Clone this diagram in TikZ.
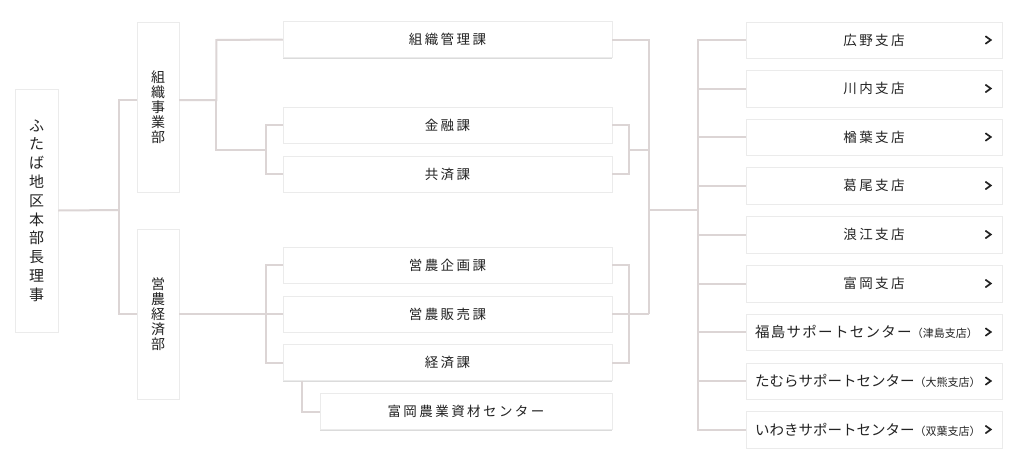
\documentclass[tikz,border=0pt]{standalone}
\usepackage{fontspec}
\setmainfont{Noto Sans CJK JP}
\newfontfamily\jp[LetterSpace=18]{Noto Sans CJK JP}
\newfontfamily\jpplain{Noto Sans CJK JP}
\newfontfamily\jpwide[LetterSpace=9]{Noto Sans CJK JP}
\usetikzlibrary{shadows}
\definecolor{linec}{RGB}{220,213,213}
\definecolor{txt}{RGB}{35,35,35}
\tikzset{
  box/.style={rectangle, fill=white, draw=black!8, line width=0.5pt, inner sep=0pt,
    text=txt, drop shadow={shadow xshift=0pt, shadow yshift=-1.2pt, opacity=0.14, fill=black}},
  vbox/.style={box, minimum width=42pt, minimum height=170pt, align=center,
    font=\fontsize{14}{15}\selectfont},
  mainbox/.style={box, minimum width=43pt, minimum height=243pt, align=center,
    font=\fontsize{15}{18.8}\selectfont},
  midbox/.style={box, minimum width=329pt, minimum height=36pt, font=\jp\fontsize{13.5}{16}\selectfont},
  brbox/.style={box, minimum width=256pt, minimum height=36.5pt, font=\jp\fontsize{13.5}{16}\selectfont},
  spbox/.style={brbox, text width=238pt, inner xsep=9pt, align=left,
    font=\jpplain\fontsize{14.5}{16}\selectfont},
  conn/.style={draw=linec, line width=2pt},
  chev/.style={draw=txt, line width=1.7pt, line cap=round, line join=miter},
}
\newcommand{\sm}[1]{{\jpplain\fontsize{11}{12}\selectfont #1}}
\begin{document}
\begin{tikzpicture}[x=1pt,y=-1pt]
\useasboundingbox[fill=white] (0,0) rectangle (1028,467);

% junction coordinates
\coordinate (j1) at (119,210);
\coordinate (g1) at (266,150);
\coordinate (g2) at (266,314);
\coordinate (h1) at (629,150);
\coordinate (h2) at (629,314);
\coordinate (c1) at (649,210);
\coordinate (c2) at (698,210);

% nodes
\node[mainbox] (main) at (36.5,210.5) {ふ\\た\\ば\\地\\区\\本\\部\\長\\理\\事};
\node[vbox] (d1) at (158,107) {組\\織\\事\\業\\部};
\node[vbox] (d2) at (158,314) {営\\農\\経\\済\\部};

\node[midbox] (m1) at (447.5,39.5) {組織管理課};
\node[midbox] (m2) at (447.5,125) {金融課};
\node[midbox] (m3) at (447.5,174) {共済課};
\node[midbox] (m4) at (447.5,265) {営農企画課};
\node[midbox] (m5) at (447.5,314) {営農販売課};
\node[midbox] (m6) at (447.5,362.5) {経済課};
\node[midbox, minimum width=292pt] (m7) at (466,411.5) {富岡農業資材センター};

\node[brbox] (b1) at (874,40) {広野支店};
\node[brbox] (b2) at (874,88.5) {川内支店};
\node[brbox] (b3) at (874,137) {楢葉支店};
\node[brbox] (b4) at (874,185.5) {葛尾支店};
\node[brbox] (b5) at (874,234.5) {浪江支店};
\node[brbox] (b6) at (874,283.5) {富岡支店};
\node[spbox, font=\jpwide\fontsize{14.5}{16}\selectfont] (b7) at (874,332) {福島サポートセンター\sm{（津島支店）}};
\node[spbox] (b8) at (874,381) {たむらサポートセンター\sm{（大熊支店）}};
\node[spbox] (b9) at (874,429.5) {いわきサポートセンター\sm{（双葉支店）}};

% chevrons
\foreach \b in {b1,b2,b3,b4,b5,b6,b7,b8,b9}{
  \draw[chev] ([shift={(-16.5pt,3.6pt)}]\b.east) -- ++(5pt,-3.6pt) -- ++(-5pt,-3.6pt);
}

% connectors
\draw[conn] (main.east) -- (j1);
\draw[conn] ([yshift=7pt]d1.west) -| (j1) |- (d2.west);
\draw[conn] ([yshift=7pt]d1.east) -| ++(37,50) -- (g1);
\draw[conn] ([yshift=7pt]d1.east) -| ++(37,-60) -- (m1.west);
\draw[conn] (m2.west) -| (g1) |- (m3.west);
\draw[conn] (d2.east) -- (m5.west);
\draw[conn] (m4.west) -| (g2) |- (m6.west);
\draw[conn] ([xshift=19pt]m6.south west) |- (m7.west);

\draw[conn] (m2.east) -| (h1) |- (m3.east);
\draw[conn] (m4.east) -| (h2) |- (m6.east);
\draw[conn] (h1) -- (h1 -| c1);
\draw[conn] (m5.east) -- (m5.east -| c1);
\draw[conn] (m1.east) -| (c1 |- m5.east);
\draw[conn] (c1) -- (c2);
\draw[conn] (b1.west) -| (c2) |- (b9.west);
\foreach \b in {b2,b3,b4,b5,b6,b7,b8}{
  \draw[conn] (\b.west) -- (\b.west -| c2);
}
\end{tikzpicture}
\end{document}
